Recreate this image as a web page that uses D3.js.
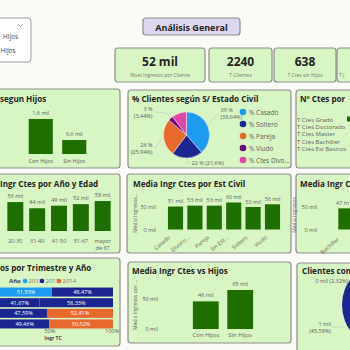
<html><head>
<meta charset="utf-8">
<title>Análisis General</title>
<script src="https://d3js.org/d3.v7.min.js"></script>
<style>
body { margin: 0; background: #fafaf6; overflow: hidden; }
text { font-family: "Open Sans", sans-serif; }
</style>
</head>
<body>
<div id="chart"></div>
<script>

// ---- data ----
var kpiValues = ["52 mil", "2240", "638"];
var kpiLabels = ["Nivel Ingresos por Cliente", "T Clientes", "T Ctes sin Hijos"];

var hijosCats = ["Con Hijos", "Sin Hijos"];
var hijosCount = [1.602, 0.638];           // miles de clientes

var civilCats = ["% Casado", "% Soltero", "% Pareja", "% Viudo", "% Ctes Divo..."];
var civilPct = [38.64, 21.6, 25.94, 3.44, 10.38];

var educCats = ["T Ctes Grado", "T Ctes Doctorado", "T Ctes Master", "T Ctes Bachiller", "T Ctes Est Basicos"];

var edadCats = ["20-30", "31-40", "41-50", "51-67", "mayor de 67"];
var edadIngr = [56, 44, 49, 52, 58];       // mil

var estCats = ["Casado", "Divorci...", "Pareja", "Sin Est...", "Soltero", "Viudo"];
var estIngr = [51, 53, 53, 60, 50, 56];

var educIngrCats = ["Bachiller", "Doctorado"];
var educIngr = [47, 55];

var years = [2012, 2013, 2014];
var trimRows = ["T1", "T2", "T3", "T4"];
var trimYears = [[2012, 2013], [2013, 2013], [2013, 2014], [2013, 2014]];
var trimPct = [[51.53, 48.47], [41.67, 58.33], [47.59, 52.41], [49.46, 50.52]];

var hijosIngrCats = ["Con Hijos", "Sin Hijos"];
var hijosIngr = [46, 65];

var hijosPieVals = [52.10, 45.58, 2.32];

// ---- styles ----
var green = "#d8f5c4", border = "#8e8e8e", barGreen = "#1f6e00", grey = "#605e5c";
var cBlue = "#1d9bf0", cNavy = "#1b2690", cOrange = "#e8692c", cPurple = "#6a0a7a", cPink = "#e045a8";
var yearColor = d3.scaleOrdinal().domain(years).range([cBlue, cNavy, cOrange]);
var es = d3.formatLocale({decimal: ",", thousands: ".", grouping: [3], currency: ["", "€"]});
var f2 = es.format(".2f"), f1 = es.format(".1f");

var svg = d3.select("#chart").append("svg").attr("width", 350).attr("height", 350);
svg.append("rect").attr("width", 350).attr("height", 350).attr("fill", "#fafaf6");

function panel(x, y, w, h, fill) {
  svg.append("rect").attr("x", x).attr("y", y).attr("width", w).attr("height", h)
    .attr("rx", 3).attr("fill", fill || green).attr("stroke", border).attr("stroke-width", 1.2);
}
function title(x, y, t, size) {
  return svg.append("text").attr("x", x).attr("y", y).attr("font-size", size || 8.1)
    .attr("font-weight", "bold").attr("fill", "#252423").text(t);
}
function small(x, y, t, anchor, size, col) {
  return svg.append("text").attr("x", x).attr("y", y).attr("font-size", size || 5.5)
    .attr("fill", col || grey).attr("text-anchor", anchor || "middle").text(t);
}
function yAxis(scale, x) {
  var g = svg.append("g").attr("transform", "translate(" + x + ",0)")
    .call(d3.axisLeft(scale).tickValues([0, 50]).tickSize(0).tickPadding(0).tickFormat(function(d) { return d + " mil"; }));
  g.select(".domain").remove();
  g.selectAll("text").attr("font-size", 5.5).attr("fill", grey).attr("font-family", "Open Sans");
}

// ---- slicer + header ----
svg.append("rect").attr("x", -10).attr("y", 18).attr("width", 41).attr("height", 44).attr("rx", 3)
  .attr("fill", "#ffffff").attr("stroke", "#a0a0a0");
svg.append("path").attr("d", "M18,24 L20.5,26.5 L23,24").attr("fill", "none").attr("stroke", "#888").attr("stroke-width", 0.8);
small(3, 39, "Hijos", "start", 6.5, "#444");
small(0.5, 53, "Hijos", "start", 6.5, "#444");

panel(143, 18, 97, 17, "#ddd6f1");
title(191.5, 31, "Análisis General", 9).attr("text-anchor", "middle");

var kpiX = [115, 209, 274, 337], kpiW = [90, 63, 62, 63];
kpiX.forEach(function(x, i) {
  panel(x, 48, kpiW[i], 34);
  if (i < kpiValues.length) {
    title(x + kpiW[i] / 2, 66, kpiValues[i], 12).attr("text-anchor", "middle");
    small(x + kpiW[i] / 2, 77, kpiLabels[i], "middle", 5, "#777");
  }
});
small(339, 77, "T (", "start", 5, "#777");

// ---- panels ----
panel(-60, 89, 180, 79);
panel(128, 90, 163, 78);
panel(296, 90, 80, 78);
panel(-60, 174, 180, 79);
panel(127, 174, 164, 79);
panel(296, 174, 80, 79);
panel(-60, 258, 180, 88);
panel(128, 262, 163, 81);
panel(297, 263, 80, 90);

// ---- Nº Ctes segun Hijos ----
title(0, 102, "segun Hijos");
var x1 = d3.scaleBand().domain(hijosCats).range([22, 93]).paddingInner(0.28).paddingOuter(0.2);
var y1 = d3.scaleLinear().domain([0, 1.6]).range([154, 119]);
hijosCats.forEach(function(c, i) {
  svg.append("rect").attr("x", x1(c)).attr("y", y1(hijosCount[i])).attr("width", x1.bandwidth())
    .attr("height", y1(0) - y1(hijosCount[i])).attr("fill", barGreen);
  small(x1(c) + x1.bandwidth() / 2, y1(hijosCount[i]) - 4, f1(hijosCount[i]) + " mil");
  small(x1(c) + x1.bandwidth() / 2, 163, c);
});

// ---- % Clientes según S/ Estado Civil ----
title(132, 102, "% Clientes según S/ Estado Civil");
var pieCols = [cBlue, cNavy, cOrange, cPurple, cPink];
var cx = 186.5, cy = 135, r = 23;
var arcs = d3.pie().sort(null)(civilPct);
var arc = d3.arc().innerRadius(0).outerRadius(r);
var pg = svg.append("g").attr("transform", "translate(" + cx + "," + cy + ")");
pg.selectAll("path").data(arcs).enter().append("path")
  .attr("d", arc).attr("fill", function(d, i) { return pieCols[i]; })
  .attr("stroke", "#fff").attr("stroke-width", 0.4);
var nudge = [-12, 0, 10, -3];
arcs.slice(0, 4).forEach(function(d, i) {
  var a = (d.startAngle + d.endAngle) / 2, sx = Math.sin(a), sy = -Math.cos(a);
  var side = sx >= 0 ? 1 : -1;
  var p0 = [sx * r, sy * r], p1 = [sx * (r + 5), sy * (r + 5) + nudge[i] * 0.5];
  var lx = side * (r + 11), ly = p1[1] + nudge[i] * 0.5;
  if (i == 1) { lx = p1[0] + 4; ly = p1[1]; }
  pg.append("polyline").attr("points", [p0, p1, [lx - side * 2, ly]].join(" "))
    .attr("fill", "none").attr("stroke", "#bbb").attr("stroke-width", 0.5);
  var anchor = side > 0 ? "start" : "end";
  if (i == 1) {
    small(cx + lx, cy + ly + 2, Math.round(d.data) + " % (" + f1(d.data).replace(",0", "") + "%)", "start");
  } else {
    small(cx + lx, cy + ly - 1, Math.round(d.data) + " %", anchor);
    small(cx + lx, cy + ly + 6, "(" + f2(d.data) + "%)", anchor);
  }
});
civilCats.forEach(function(c, i) {
  svg.append("circle").attr("cx", 243).attr("cy", 112 + i * 12).attr("r", 3.3).attr("fill", pieCols[i]);
  small(249, 114.5 + i * 12, c, "start", 6.5);
});

// ---- Nº Ctes por ... ----
title(300, 102, "Nº Ctes por");
educCats.forEach(function(c, i) {
  small(297, 122 + i * 7.2, c, "start", 6);
});
svg.append("rect").attr("x", 347).attr("y", 116.5).attr("width", 20).attr("height", 5).attr("fill", barGreen);

// ---- Media Ingr Ctes por Año y Edad ----
title(0, 186.5, "Ingr Ctes por Año y Edad");
var x2 = d3.scaleBand().domain(edadCats).range([3, 115]).paddingInner(0.27).paddingOuter(0.2);
var y2 = d3.scaleLinear().domain([0, 60]).range([231, 200]);
edadCats.forEach(function(c, i) {
  var mx = x2(c) + x2.bandwidth() / 2;
  svg.append("rect").attr("x", x2(c)).attr("y", y2(edadIngr[i])).attr("width", x2.bandwidth())
    .attr("height", y2(0) - y2(edadIngr[i])).attr("fill", barGreen);
  small(mx, y2(edadIngr[i]) - 4, edadIngr[i] + " mil");
  var parts = c.split(" de ");
  small(mx, 243, parts[0]);
  if (parts[1]) small(mx, 250, "de " + parts[1]);
});

// ---- Media Ingr Ctes por Est Civil ----
title(133, 186.5, "Media Ingr Ctes por Est Civil");
small(0, 0, "Media Ingresos...", "middle", 5).attr("transform", "translate(137,213) rotate(-90)");
var x3 = d3.scaleBand().domain(estCats).range([166, 282]).paddingInner(0.22).paddingOuter(0.1);
var y3 = d3.scaleLinear().domain([0, 50]).range([229.5, 207]);
yAxis(y3, 156);
estCats.forEach(function(c, i) {
  var mx = x3(c) + x3.bandwidth() / 2;
  svg.append("rect").attr("x", x3(c)).attr("y", y3(estIngr[i])).attr("width", x3.bandwidth())
    .attr("height", y3(0) - y3(estIngr[i])).attr("fill", barGreen);
  small(mx, y3(estIngr[i]) - 3.5, estIngr[i] + " mil");
  small(0, 0, c, "end", 5.5).attr("transform", "translate(" + (mx - 5) + ",238) rotate(-40)");
});

// ---- Media Ingr C... (nivel educativo) ----
title(300, 186.5, "Media Ingr C");
small(0, 0, "Media Ingresos...", "middle", 5).attr("transform", "translate(296,213) rotate(-90)");
var x4 = d3.scaleBand().domain(educIngrCats).range([336, 382]).paddingInner(0.2).paddingOuter(0.1);
yAxis(y3, 317);
var mx4 = x4(educIngrCats[0]) + x4.bandwidth() / 2;
educIngrCats.forEach(function(c, i) {
  svg.append("rect").attr("x", x4(c)).attr("y", y3(educIngr[i])).attr("width", x4.bandwidth())
    .attr("height", y3(0) - y3(educIngr[i])).attr("fill", barGreen);
});
small(336, y3(educIngr[0]) - 3.5, educIngr[0] + " m", "start");
small(0, 0, educIngrCats[0], "end", 5.5).attr("transform", "translate(" + (mx4 - 8) + ",240) rotate(-40)");

// ---- Ingr TC por Trimestre y Año ----
title(0, 270.5, "os por Trimestre y Año");
small(9, 283, "Año", "start", 6, "#444").attr("font-weight", "bold");
var lx0 = 25;
years.forEach(function(y, i) {
  svg.append("circle").attr("cx", lx0 + i * 17).attr("cy", 281).attr("r", 2.3).attr("fill", yearColor(y));
  small(lx0 + i * 17 + 3.5, 283, y, "start", 6, "#777");
});
var xs = d3.scaleLinear().domain([0, 100]).range([-13, 113]);
var ys = d3.scaleBand().domain(trimRows).range([287, 329]).paddingInner(0.15).paddingOuter(0.05);
trimRows.forEach(function(t, i) {
  var acc = 0;
  trimPct[i].forEach(function(p, j) {
    var x0 = xs(acc), x1b = xs(acc + p);
    svg.append("rect").attr("x", x0).attr("y", ys(t)).attr("width", x1b - x0).attr("height", ys.bandwidth())
      .attr("fill", yearColor(trimYears[i][j]));
    small((Math.max(x0, 0) + x1b) / 2, ys(t) + ys.bandwidth() / 2 + 2, f2(p) + "%", "middle", 5.5, "#fff");
    acc += p;
  });
});
small(xs(50), 333, "50%", "middle", 5.5);
small(xs(100) - 1, 333, "100%", "middle", 5.5);
small(xs(50) + 3, 340, "Ingr TC", "middle", 5, "#444").attr("font-weight", "bold");

// ---- Media Ingr Ctes vs Hijos ----
title(132, 274, "Media Ingr Ctes vs Hijos");
small(0, 0, "Media Ingresos por ...", "middle", 5).attr("transform", "translate(137,305) rotate(-90)");
var x5 = d3.scaleBand().domain(hijosIngrCats).range([186, 260]).paddingInner(0.25).paddingOuter(0.2);
var y5 = d3.scaleLinear().domain([0, 50]).range([329, 299]);
yAxis(y5, 158);
hijosIngrCats.forEach(function(c, i) {
  var mx = x5(c) + x5.bandwidth() / 2;
  svg.append("rect").attr("x", x5(c)).attr("y", y5(hijosIngr[i])).attr("width", x5.bandwidth())
    .attr("height", y5(0) - y5(hijosIngr[i])).attr("fill", barGreen);
  small(mx, y5(hijosIngr[i]) - 4, hijosIngr[i] + " mil");
  small(mx, 337, c, "middle", 6);
});

// ---- Clientes con ... ----
title(302, 274, "Clientes con");
var pcx = 386, pcy = 305, pr = 44;
var arcs2 = d3.pie().sort(null)(hijosPieVals);
var pg2 = svg.append("g").attr("transform", "translate(" + pcx + "," + pcy + ")");
pg2.selectAll("path").data(arcs2).enter().append("path")
  .attr("d", d3.arc().innerRadius(0).outerRadius(pr))
  .attr("fill", function(d, i) { return [cBlue, cNavy, cOrange][i]; });
small(348, 283, "0 mil (" + f2(hijosPieVals[2]) + "%)", "end", 5.5);
small(331, 326, "1 mil", "end", 5.5);
small(331, 333, "(" + f2(hijosPieVals[1]) + "%)", "end", 5.5);
svg.append("line").attr("x1", 332).attr("y1", 327).attr("x2", 343).attr("y2", 327)
  .attr("stroke", "#bbb").attr("stroke-width", 0.5);

</script>
</body></html>
